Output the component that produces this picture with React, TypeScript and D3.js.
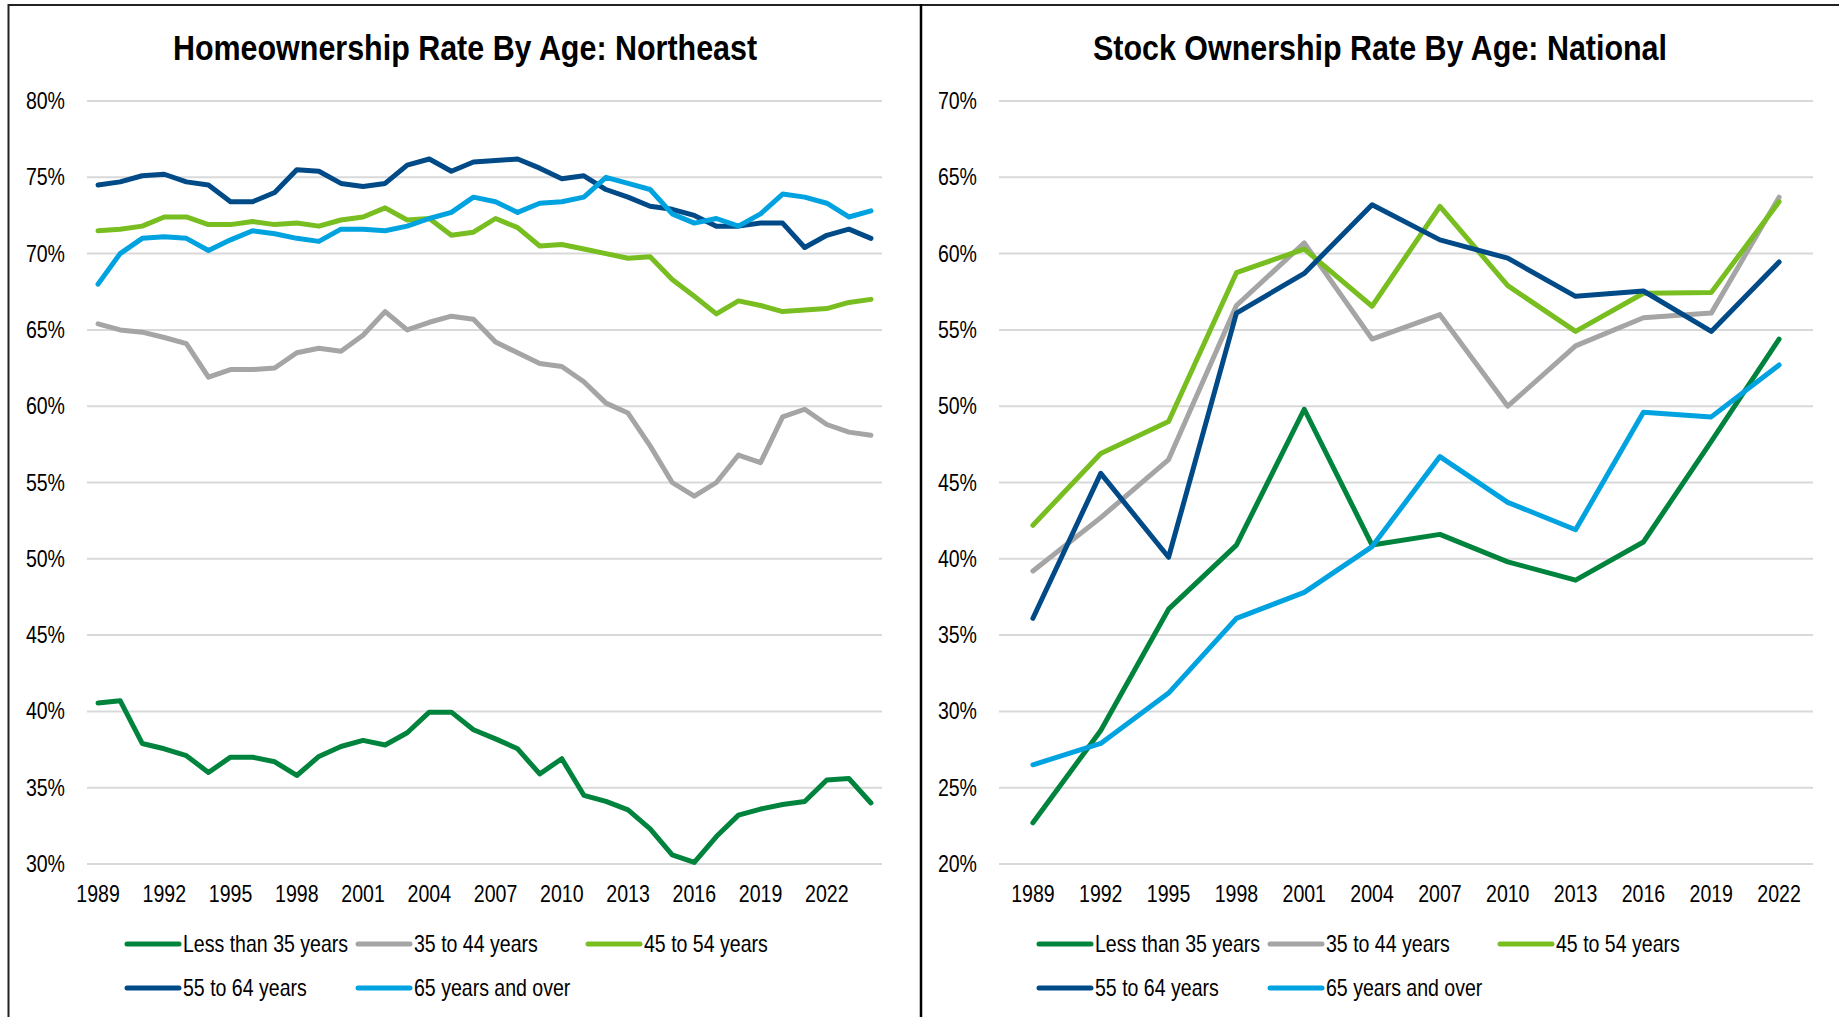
import React from 'react';
import * as d3 from 'd3';

const W = 1839;
const H = 1017;

const seriesNames = ['Less than 35 years', '35 to 44 years', '45 to 54 years', '55 to 64 years', '65 years and over'];
const seriesColors = ['#00843D', '#A5A5A5', '#78BE20', '#004B87', '#00A3E0'];

// Homeownership, Northeast, 1989-2024 (annual)
const homeYears = d3.range(1989, 2025);
const homeUnder35 = [40.55, 40.7, 37.9, 37.55, 37.1, 36.0, 37.0, 37.0, 36.7, 35.8, 37.05, 37.7, 38.1, 37.8, 38.6, 39.95, 39.95, 38.8, 38.2, 37.55, 35.9, 36.9, 34.5, 34.1, 33.55, 32.3, 30.6, 30.1, 31.8, 33.2, 33.6, 33.9, 34.1, 35.5, 35.6, 34.0];
const home35to44 = [65.4, 65.0, 64.85, 64.5, 64.1, 61.9, 62.4, 62.4, 62.5, 63.5, 63.8, 63.6, 64.65, 66.2, 65.0, 65.5, 65.9, 65.7, 64.2, 63.5, 62.8, 62.6, 61.6, 60.2, 59.55, 57.4, 55.0, 54.1, 55.0, 56.8, 56.3, 59.3, 59.8, 58.8, 58.3, 58.1];
const home45to54 = [71.5, 71.6, 71.8, 72.4, 72.4, 71.9, 71.9, 72.1, 71.9, 72.0, 71.8, 72.2, 72.4, 73.0, 72.2, 72.3, 71.2, 71.4, 72.3, 71.7, 70.5, 70.6, 70.3, 70.0, 69.7, 69.8, 68.3, 67.2, 66.05, 66.9, 66.6, 66.2, 66.3, 66.4, 66.8, 67.0];
const home55to64 = [74.5, 74.7, 75.1, 75.2, 74.7, 74.5, 73.4, 73.4, 74.0, 75.5, 75.4, 74.6, 74.4, 74.6, 75.8, 76.2, 75.4, 76.0, 76.1, 76.2, 75.6, 74.9, 75.1, 74.2, 73.7, 73.1, 72.9, 72.5, 71.8, 71.8, 72.0, 72.0, 70.4, 71.2, 71.6, 71.0];
const home65plus = [68.0, 70.0, 71.0, 71.1, 71.0, 70.2, 70.9, 71.5, 71.3, 71.0, 70.8, 71.6, 71.6, 71.5, 71.8, 72.3, 72.7, 73.7, 73.4, 72.7, 73.3, 73.4, 73.7, 75.0, 74.6, 74.2, 72.6, 72.0, 72.3, 71.8, 72.6, 73.9, 73.7, 73.3, 72.4, 72.8];
const homeTickYears = d3.range(1989, 2023, 3);

// Stock ownership, national, survey years
const stockYears = [1989, 1992, 1995, 1998, 2001, 2004, 2007, 2010, 2013, 2016, 2019, 2022];
const stockUnder35 = [22.7, 28.75, 36.7, 40.9, 49.8, 40.9, 41.6, 39.8, 38.6, 41.1, 47.7, 54.4];
const stock35to44 = [39.2, 42.7, 46.5, 56.6, 60.7, 54.4, 56.0, 50.0, 53.95, 55.8, 56.1, 63.7];
const stock45to54 = [42.2, 46.9, 49.0, 58.75, 60.3, 56.55, 63.1, 57.9, 54.9, 57.4, 57.45, 63.4];
const stock55to64 = [36.1, 45.6, 40.1, 56.1, 58.7, 63.2, 60.9, 59.7, 57.2, 57.55, 54.9, 59.45];
const stock65plus = [26.5, 27.9, 31.2, 36.1, 37.8, 40.8, 46.7, 43.7, 41.9, 49.6, 49.3, 52.7];

const homeTicks = [30, 35, 40, 45, 50, 55, 60, 65, 70, 75, 80];
const stockTicks = [20, 25, 30, 35, 40, 45, 50, 55, 60, 65, 70];

const FONT = '"Liberation Sans", Arial, sans-serif';

// no narrow font installed, so squeeze Liberation Sans horizontally
function NText(props: { x: number; y: number; size: number; anchor?: string; bold?: boolean; sx?: number; children: React.ReactNode }) {
  const { x, y, size, anchor = 'start', bold = false, sx = 0.85, children } = props;
  return (
    <text
      transform={`translate(${x},${y}) scale(${sx},1)`}
      textAnchor={anchor}
      fontFamily={FONT}
      fontWeight={bold ? 'bold' : 'normal'}
      fontSize={size}
      fill="#000"
    >
      {children}
    </text>
  );
}

type PanelProps = {
  title: string;
  left: number;
  right: number;
  plotLeft: number;
  plotRight: number;
  years: number[];
  tickYears: number[];
  yTicks: number[];
  series: number[][];
};

function Panel(props: PanelProps) {
  const { title, left, right, plotLeft, plotRight, years, tickYears, yTicks, series } = props;
  const x = d3.scalePoint<number>().domain(years).range([plotLeft, plotRight]).padding(0.5);
  const y = d3.scaleLinear().domain([yTicks[0], yTicks[yTicks.length - 1]]).range([864, 101]);
  const line = d3
    .line<number>()
    .x((d, i) => x(years[i]) as number)
    .y((d) => y(d));

  const legendX = left + 116;
  const legendCols = [0, 231, 461];
  const legendRows = [944, 988];

  return (
    <g>
      <NText x={(left + right) / 2} y={60} size={35} anchor="middle" bold sx={0.87}>
        {title}
      </NText>
      {yTicks.map((t) => (
        <g key={t}>
          <line x1={plotLeft} x2={plotRight} y1={y(t)} y2={y(t)} stroke="#D9D9D9" strokeWidth={2} />
          <NText x={plotLeft - 22} y={y(t) + 8} size={23} anchor="end">
            {t + '%'}
          </NText>
        </g>
      ))}
      {tickYears.map((yr) => (
        <NText key={yr} x={x(yr) as number} y={902} size={23} anchor="middle">
          {yr}
        </NText>
      ))}
      {series.map((s, i) => (
        <path key={i} d={line(s) || ''} fill="none" stroke={seriesColors[i]} strokeWidth={5} strokeLinejoin="round" strokeLinecap="round" />
      ))}
      {seriesNames.map((name, i) => {
        const lx = legendX + legendCols[i % 3];
        const ly = legendRows[Math.floor(i / 3)];
        return (
          <g key={name}>
            <line x1={lx + 2} x2={lx + 54} y1={ly} y2={ly} stroke={seriesColors[i]} strokeWidth={5} strokeLinecap="round" />
            <NText x={lx + 58} y={ly + 8} size={23}>
              {name}
            </NText>
          </g>
        );
      })}
    </g>
  );
}

export default function App() {
  return (
    <svg width={W} height={H} style={{ position: 'absolute', left: 0, top: 0, background: '#fff' }}>
      <rect x={0} y={0} width={W} height={H} fill="#fff" />
      <Panel
        title="Homeownership Rate By Age: Northeast"
        left={9}
        right={921}
        plotLeft={87}
        plotRight={882}
        years={homeYears}
        tickYears={homeTickYears}
        yTicks={homeTicks}
        series={[homeUnder35, home35to44, home45to54, home55to64, home65plus]}
      />
      <Panel
        title="Stock Ownership Rate By Age: National"
        left={921}
        right={1839}
        plotLeft={999}
        plotRight={1813}
        years={stockYears}
        tickYears={stockYears}
        yTicks={stockTicks}
        series={[stockUnder35, stock35to44, stock45to54, stock55to64, stock65plus]}
      />
      <line x1={8.5} x2={W} y1={5} y2={5} stroke="#222" strokeWidth={2} />
      <line x1={8.5} x2={8.5} y1={4} y2={H} stroke="#222" strokeWidth={2} />
      <line x1={921} x2={921} y1={4} y2={H} stroke="#000" strokeWidth={2.5} />
    </svg>
  );
}
